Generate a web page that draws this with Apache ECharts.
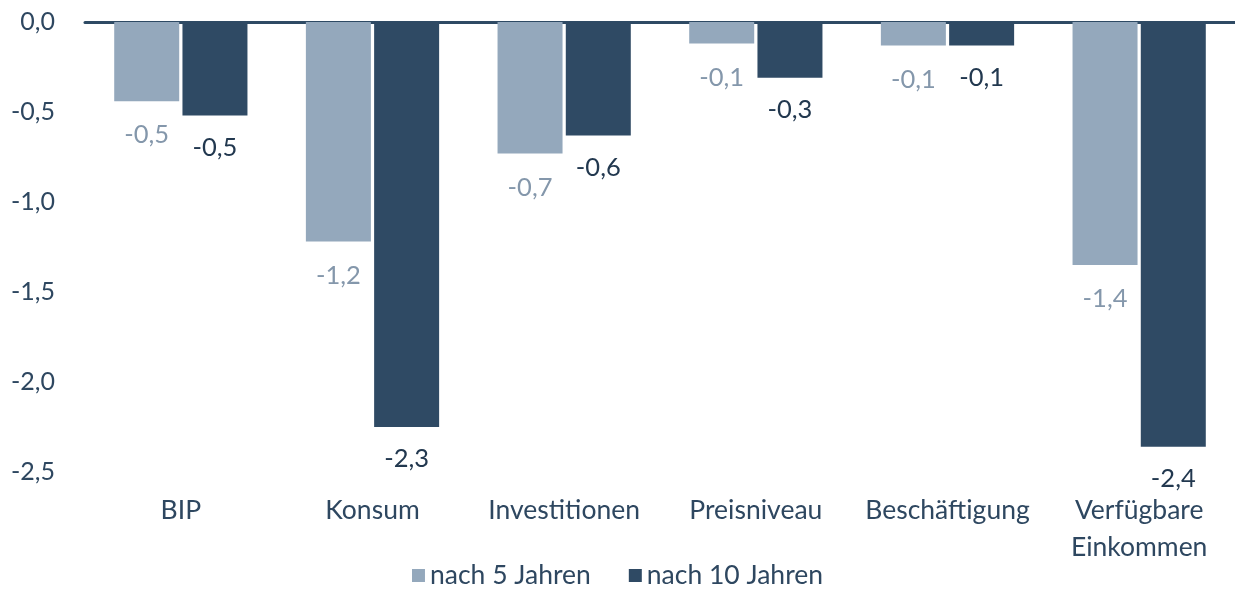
<!DOCTYPE html>
<html>
<head>
<meta charset="utf-8">
<script src="https://cdn.jsdelivr.net/npm/echarts@6/dist/echarts.min.js"></script>
<style>
  html, body { margin: 0; padding: 0; background: #fff; }
  #chart { width: 1235px; height: 595px; }
</style>
</head>
<body>
<div id="chart"></div>
<script>
const categories = ["BIP", "Konsum", "Investitionen", "Preisniveau", "Beschäftigung", "Verfügbare\nEinkommen"];
const nach5 = [-0.44, -1.22, -0.73, -0.12, -0.13, -1.35];
const nach10 = [-0.52, -2.25, -0.63, -0.31, -0.13, -2.36];
const labels5 = ["-0,5", "-1,2", "-0,7", "-0,1", "-0,1", "-1,4"];
const labels10 = ["-0,5", "-2,3", "-0,6", "-0,3", "-0,1", "-2,4"];
const seriesNames = ["nach 5 Jahren", "nach 10 Jahren"];

const textColor = "#2e4760";
const font = "Lato";

const chart = echarts.init(document.getElementById("chart"));

const option = {
  animation: false,
  grid: { left: 85, right: 0, top: 22, bottom: 123 },
  legend: {
    bottom: 1,
    left: "center",
    itemWidth: 13,
    itemHeight: 13,
    itemGap: 38,
    icon: "rect",
    textStyle: { color: textColor, fontSize: 26.5, fontFamily: font },
    data: seriesNames,
  },
  xAxis: [
    {
      type: "category",
      position: "bottom",
      data: categories,
      axisLine: { show: false, onZero: false },
      axisTick: { show: false },
      axisLabel: {
        color: textColor,
        fontSize: 26.5,
        fontFamily: font,
        lineHeight: 37,
        margin: 20,
        interval: 0,
      },
    },
    {
      type: "category",
      position: "top",
      data: categories,
      axisLine: { show: true, lineStyle: { color: "#2e4a64", width: 3 } },
      axisTick: { show: false },
      axisLabel: { show: false },
    },
  ],
  yAxis: {
    type: "value",
    min: -2.5,
    max: 0,
    interval: 0.5,
    splitLine: { show: false },
    axisLine: { show: false },
    axisTick: { show: false },
    axisLabel: {
      color: textColor,
      fontSize: 25,
      fontFamily: font,
      margin: 30,
      formatter: (v) => v.toFixed(1).replace(".", ","),
    },
  },
  series: [
    {
      name: seriesNames[0],
      type: "bar",
      data: nach5,
      barWidth: 65,
      barGap: "5%",
      itemStyle: { color: "#94a8bc" },
      label: {
        show: true,
        position: "bottom",
        distance: 21,
        color: "#8497ab",
        fontSize: 25.5,
        fontFamily: font,
        formatter: (p) => labels5[p.dataIndex],
      },
    },
    {
      name: seriesNames[1],
      type: "bar",
      data: nach10,
      barWidth: 65,
      barGap: "5%",
      itemStyle: { color: "#2f4a64" },
      label: {
        show: true,
        position: "bottom",
        distance: 19,
        color: "#22384f",
        fontSize: 25.5,
        fontFamily: font,
        formatter: (p) => labels10[p.dataIndex],
      },
    },
  ],
};

chart.setOption(option);
</script>
</body>
</html>
